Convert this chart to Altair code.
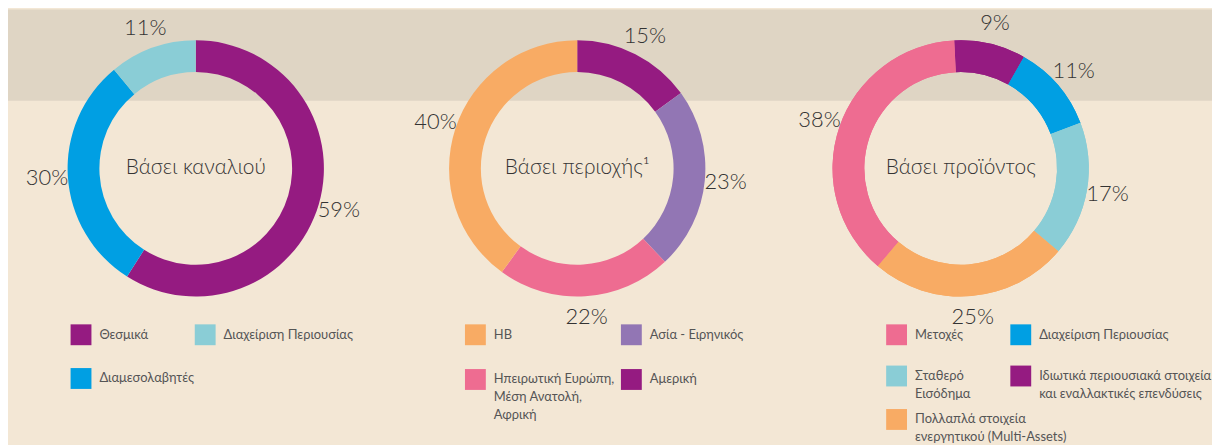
import math
import altair as alt
import pandas as pd

# ---- data ----
ch_cats = ["Θεσμικά", "Διαμεσολαβητές", "Διαχείριση Περιουσίας"]
ch_vals = [59, 30, 11]
ch_legend = ["Θεσμικά", "Διαχείριση Περιουσίας", "Διαμεσολαβητές"]
ch_colors = ["#951B81", "#8ACDD6", "#009FE3"]

rg_cats = ["Αμερική", "Ασία - Ειρηνικός",
           "Ηπειρωτική Ευρώπη,\nΜέση Ανατολή,\nΑφρική", "ΗΒ"]
rg_vals = [15, 23, 22, 40]
rg_legend = ["ΗΒ", "Ασία - Ειρηνικός",
             "Ηπειρωτική Ευρώπη,\nΜέση Ανατολή,\nΑφρική", "Αμερική"]
rg_colors = ["#F8AB64", "#9276B4", "#EE6C91", "#951B81"]

pr_cats = ["Ιδιωτικά περιουσιακά στοιχεία\nκαι εναλλακτικές επενδύσεις",
           "Διαχείριση Περιουσίας", "Σταθερό\nΕισόδημα",
           "Πολλαπλά στοιχεία\nενεργητικού (Multi-Assets)", "Μετοχές"]
pr_vals = [9, 11, 17, 25, 38]
pr_legend = ["Μετοχές", "Διαχείριση Περιουσίας", "Σταθερό\nΕισόδημα",
             "Ιδιωτικά περιουσιακά στοιχεία\nκαι εναλλακτικές επενδύσεις",
             "Πολλαπλά στοιχεία\nενεργητικού (Multi-Assets)"]
pr_colors = ["#EE6C91", "#009FE3", "#8ACDD6", "#951B81", "#F8AB64"]

titles = ["Βάσει καναλιού", "Βάσει περιοχής¹", "Βάσει προϊόντος"]

W, H = 1212, 437
CY = 160
FONT = "Lato"


def legend(lx, ly, colpad, rowpad, values=None):
    kw = dict(
        orient="none", legendX=lx, legendY=ly, columns=2,
        direction="horizontal",
        gridAlign="each", columnPadding=colpad, rowPadding=rowpad,
        symbolType="square", symbolSize=441, symbolStrokeWidth=0,
        labelFont=FONT, labelFontSize=13, labelColor="#555555",
        labelOffset=8, labelLimit=400, padding=0,
        labelExpr="split(datum.label, '\\n')",
    )
    if values is not None:
        kw["values"] = values
    return alt.Legend(**kw)


def donut(cats, vals, legend_order, colors, title, cx, legends, start=0.0):
    df = pd.DataFrame({"cat": cats, "val": vals, "idx": list(range(len(cats)))})
    df["lab"] = df["val"].astype(str) + "%"
    base = alt.Chart(df).encode(
        theta=alt.Theta("val:Q", stack=True,
                        scale=alt.Scale(range=[start, start + 2 * math.pi])),
        order=alt.Order("idx:Q"),
    )
    out = []
    for lg in legends:
        out.append(base.mark_arc(outerRadius=129, innerRadius=97).encode(
            x=alt.value(cx), y=alt.value(CY),
            color=alt.Color("cat:N", title=None,
                            scale=alt.Scale(domain=legend_order, range=colors),
                            legend=lg),
        ))
    lab = base.mark_text(radius=150, font=FONT, fontSize=22, fontWeight=300,
                         color="#333333", align="center", baseline="middle").encode(
        x=alt.value(cx), y=alt.value(CY), text="lab:N"
    )
    ttl = alt.Chart(pd.DataFrame({"t": [title]})).mark_text(
        font=FONT, fontSize=21, fontWeight=300, color="#333333",
        align="center", baseline="middle"
    ).encode(x=alt.value(cx), y=alt.value(CY), text="t:N")
    return out + [lab, ttl]


band = alt.Chart(pd.DataFrame({"a": [0]})).mark_rect(color="#DFD5C4").encode(
    x=alt.value(0), x2=alt.value(W), y=alt.value(0), y2=alt.value(92)
)

layers = [band]
layers += donut(ch_cats, ch_vals, ch_legend, ch_colors, titles[0], 189,
                [legend(63, 317, 0, 23)])
layers += donut(rg_cats, rg_vals, rg_legend, rg_colors, titles[1], 573,
                [legend(460, 317, 6, 24)])
layers += donut(pr_cats, pr_vals, pr_legend, pr_colors, titles[2], 959,
                [legend(884, 317, 40, 20.5, values=pr_legend[:4]),
                 legend(884, 402, 40, 0, values=pr_legend[4:])],
                start=-0.05)

chart = alt.layer(*layers).resolve_scale(
    theta="independent", color="independent"
).properties(
    width=W, height=H, padding=0,
    autosize=alt.AutoSizeParams(type="none"),
    background="#F3E7D5",
).configure(style={"guide-label": {"lineHeight": 18}}).configure_view(strokeWidth=0)

chart.save("out.html", embed_options={"renderer": "svg", "actions": False})
